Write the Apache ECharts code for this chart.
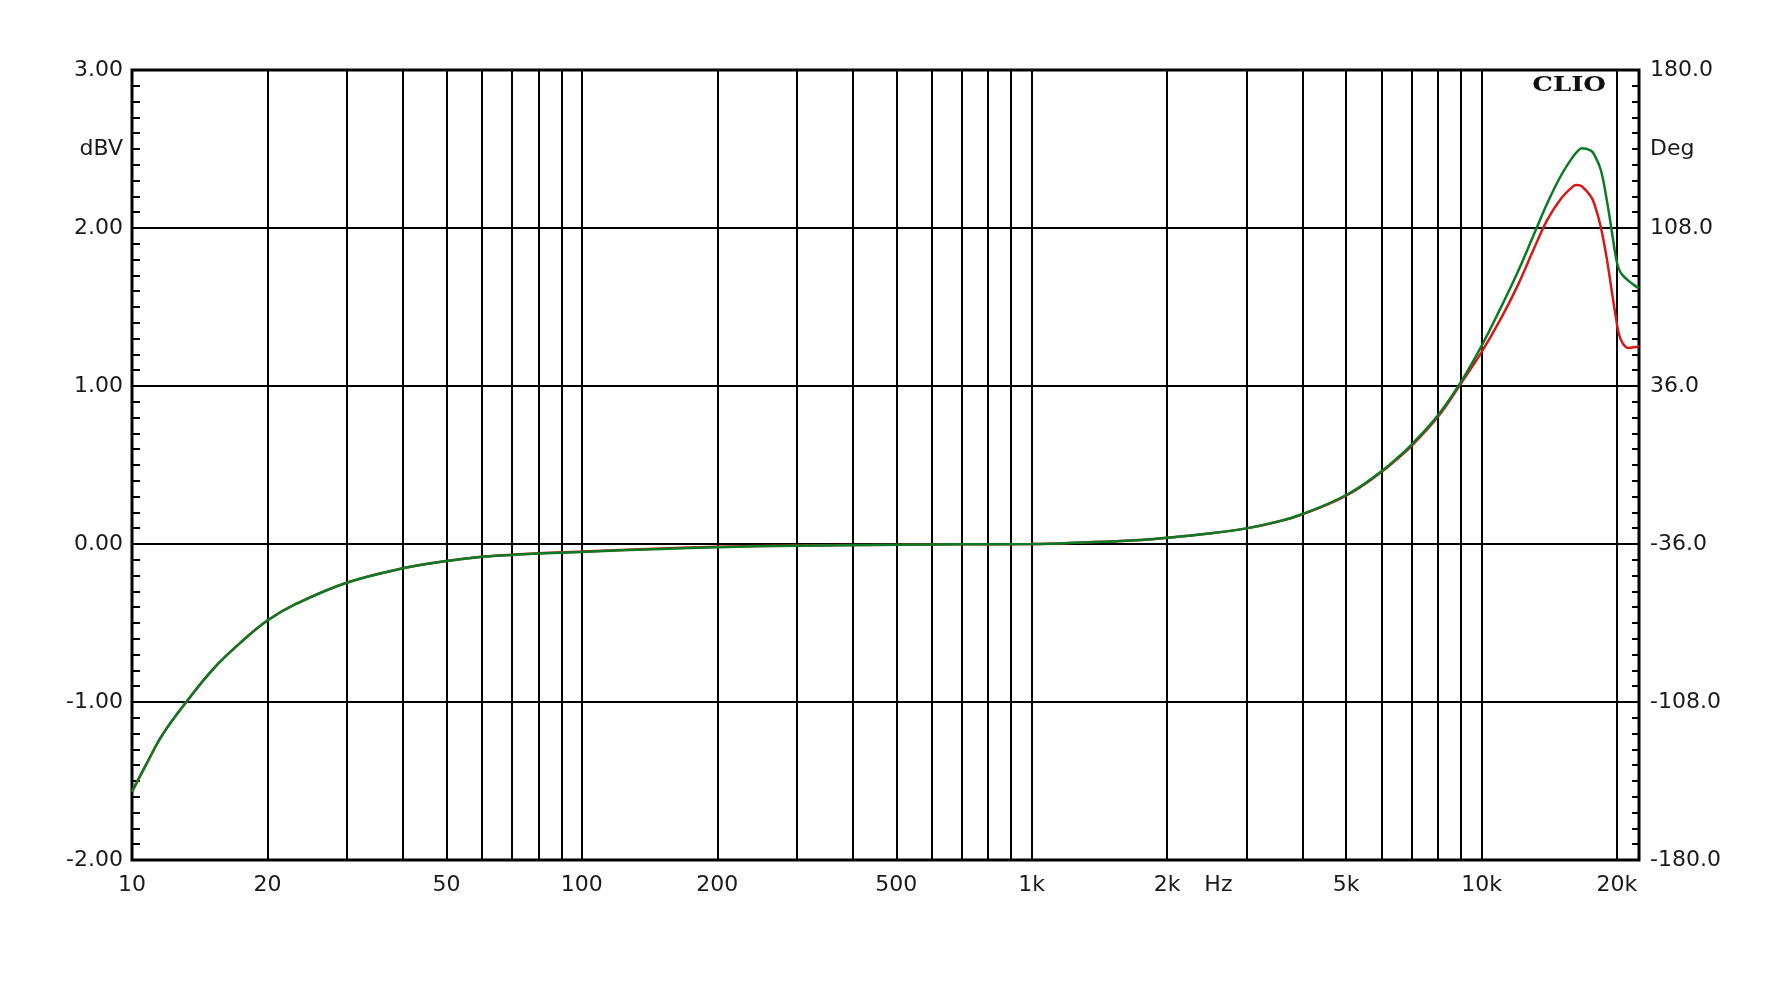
<!DOCTYPE html>
<html><head><meta charset="utf-8">
<script src="https://cdn.jsdelivr.net/npm/echarts@6/dist/echarts.min.js"></script>
<style>html,body{margin:0;padding:0;background:#fff}#c{width:1772px;height:1001px}</style>
</head><body><div id="c"></div>
<script>
// ---- data ----
const freqs = [10, 10.8, 11.7, 13.2, 15.2, 17.4, 20, 23.2,
  30, 40, 50, 60, 70, 80,
  100, 150, 200, 300, 500, 700,
  1000, 1300, 1700, 2000, 2450, 3000, 3500, 4000,
  5000, 6000, 6600, 7000, 8000, 9000,
  10000, 11000, 12000, 13000, 14000, 15000, 16000,
  16300, 16700, 17500, 17800, 18400, 19000, 19500, 19900,
  20200, 20600, 21200, 21800, 22387];
const greenDb = [-1.567, -1.385, -1.205, -1.000, -0.787, -0.626, -0.484, -0.378,
  -0.245, -0.154, -0.108, -0.081, -0.069, -0.060,
  -0.050, -0.031, -0.020, -0.011, -0.005, -0.002,
  0.000, 0.010, 0.024, 0.040, 0.065, 0.099, 0.140, 0.190,
  0.310, 0.462, 0.562, 0.631, 0.815, 1.026,
  1.254, 1.488, 1.714, 1.943, 2.156, 2.329, 2.455,
  2.482, 2.504, 2.490, 2.465, 2.370, 2.170, 1.970, 1.810,
  1.740, 1.700, 1.667, 1.640, 1.618];
const redDb = [-1.567, -1.385, -1.205, -1.000, -0.787, -0.626, -0.484, -0.378,
  -0.245, -0.154, -0.108, -0.081, -0.068, -0.058,
  -0.048, -0.029, -0.018, -0.009, -0.005, -0.002,
  0.000, 0.010, 0.024, 0.040, 0.065, 0.099, 0.139, 0.188,
  0.306, 0.457, 0.555, 0.623, 0.805, 1.016,
  1.214, 1.418, 1.629, 1.853, 2.051, 2.184, 2.265,
  2.272, 2.264, 2.200, 2.155, 2.010, 1.800, 1.590, 1.430,
  1.330, 1.270, 1.240, 1.245, 1.252];
const gridFreqs = [20, 30, 40, 50, 60, 70, 80, 90,
  100, 200, 300, 400, 500, 600, 700, 800, 900,
  1000, 2000, 3000, 4000, 5000, 6000, 7000, 8000, 9000,
  10000, 20000];
const xLabelFreqs = [10, 20, 50, 100, 200, 500, 1000, 2000, 2600, 5000, 10000, 20000];
const xLabelTexts = ['10', '20', '50', '100', '200', '500', '1k', '2k', 'Hz', '5k', '10k', '20k'];
const leftLabelValues = [-2, -1, 0, 1, 2, 2.5, 3];
const leftLabelTexts = ['-2.00', '-1.00', '0.00', '1.00', '2.00', 'dBV', '3.00'];
const rightLabelValues = [-180, -108, -36, 36, 108, 144, 180];
const rightLabelTexts = ['-180.0', '-108.0', '-36.0', '36.0', '108.0', 'Deg', '180.0'];
const X_MIN = 10, X_MAX = 22387;

// ---- chart ----
function lookup(vals, texts, v) {
  for (let i = 0; i < vals.length; i++) if (Math.abs(vals[i] - v) < 1e-6) return texts[i];
  return '';
}
const lg = Math.log10;
const xLabLog = xLabelFreqs.map(lg);
const labelFont = {fontFamily: 'DejaVu Sans, Liberation Sans, sans-serif', fontSize: 22, color: '#1a1a1a'};

const chart = echarts.init(document.getElementById('c'), null, {renderer: 'canvas'});
chart.setOption({
  animation: false,
  backgroundColor: '#fff',
  grid: {left: 132, right: 133, top: 70, bottom: 141, show: true, borderColor: '#000', borderWidth: 3, containLabel: false},
  xAxis: [
    {type: 'log', logBase: 10, min: X_MIN, max: X_MAX, position: 'bottom',
      axisLine: {show: false}, axisTick: {show: false}, axisLabel: {show: false}, splitLine: {show: false}},
    {type: 'value', min: lg(X_MIN), max: lg(X_MAX), position: 'bottom',
      axisLine: {show: false},
      axisTick: {show: false, customValues: gridFreqs.map(lg)},
      splitLine: {show: true, lineStyle: {color: '#000', width: 2}},
      axisLabel: Object.assign({customValues: xLabLog, margin: 14,
        formatter: v => lookup(xLabLog, xLabelTexts, v)}, labelFont)}
  ],
  yAxis: [
    {type: 'value', min: -2, max: 3, interval: 1, position: 'left',
      axisLine: {show: false},
      axisTick: {show: false, inside: true},
      minorTick: {show: true, splitNumber: 10, length: 8, lineStyle: {color: '#000', width: 2}},
      splitLine: {show: true, lineStyle: {color: '#000', width: 2}},
      axisLabel: Object.assign({customValues: leftLabelValues, margin: 9,
        formatter: v => lookup(leftLabelValues, leftLabelTexts, v)}, labelFont)},
    {type: 'value', min: -180, max: 180, interval: 72, position: 'right',
      axisLine: {show: false},
      axisTick: {show: false, inside: true},
      minorTick: {show: true, splitNumber: 10, length: 7, lineStyle: {color: '#000', width: 2}},
      splitLine: {show: false},
      axisLabel: Object.assign({customValues: rightLabelValues, margin: 11,
        formatter: v => lookup(rightLabelValues, rightLabelTexts, v)}, labelFont)}
  ],
  graphic: [
    {type: 'text', x: 1606, y: 86, scaleX: 1.3, z: 100,
      style: {text: 'CLIO', fontFamily: 'DejaVu Serif, Liberation Serif, serif', fontWeight: 'bold',
        fontSize: 20, fill: '#111', align: 'right', verticalAlign: 'middle'}}
  ],
  series: [
    {type: 'line', name: 'red', xAxisIndex: 0, yAxisIndex: 0, showSymbol: false, symbol: 'none',
      smooth: 0.4, lineStyle: {color: '#d81818', width: 2.5},
      data: freqs.map((f, i) => [f, redDb[i]])},
    {type: 'line', name: 'green', xAxisIndex: 0, yAxisIndex: 0, showSymbol: false, symbol: 'none',
      smooth: 0.4, lineStyle: {color: '#0b7a24', width: 2.5},
      data: freqs.map((f, i) => [f, greenDb[i]])}
  ]
});
</script></body></html>
